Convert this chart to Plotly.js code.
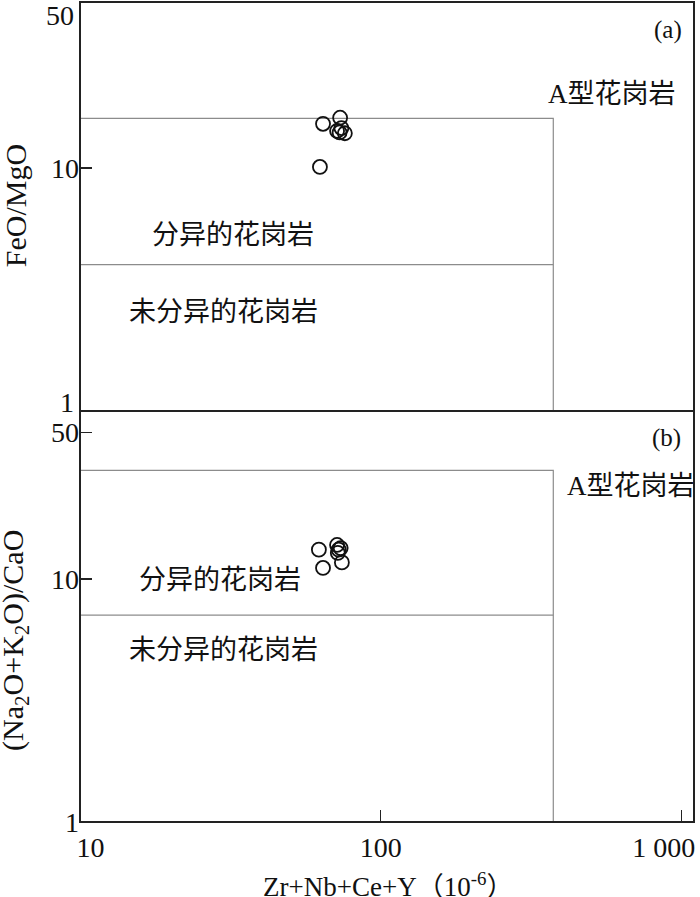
<!DOCTYPE html>
<html>
<head>
<meta charset="utf-8">
<script src="https://cdn.plot.ly/plotly-3.0.1.min.js"></script>
<style>
  body { margin: 0; background: #fff; }
  #chart { width: 700px; height: 897px; }
</style>
</head>
<body>
<div id="chart"></div>
<script>
// Zr+Nb+Ce+Y (10^-6) vs FeO/MgO  -- panel (a)
var sumA = [64.3, 73.3, 71.6, 74.0, 76.0, 73.0, 62.8];
var feoMgo = [15.2, 16.1, 14.2, 14.6, 13.9, 14.0, 10.1];
// Zr+Nb+Ce+Y vs (Na2O+K2O)/CaO -- panel (b)
var sumB = [62.3, 71.6, 72.5, 72.0, 74.3, 64.3, 73.6];
var alkCao = [13.2, 13.8, 13.2, 12.8, 11.7, 11.1, 13.4];

// field boundaries
var aTypeMin = 375;
var fgFeoMgo = 16, ogtFeoMgo = 4;
var fgAlkCao = 28, ogtAlkCao = 7.1;

var xTickVals = [10, 100, 1000];
var xTickText = ['\u00a0\u00a0\u00a010', '100', '1 000\u00a0\u00a0\u00a0\u00a0\u00a0'];

var serif = 'Liberation Serif, "Noto Sans CJK SC", serif';
var boxGray = '#8c8c8c';
var tickFont = {family: serif, size: 28, color: '#111'};

function boundary(x, y, yaxis) {
  return {x: x, y: y, xaxis: 'x', yaxis: yaxis, mode: 'lines', type: 'scatter',
    line: {color: boxGray, width: 1.2}, hoverinfo: 'skip', showlegend: false};
}
function samples(x, y, yaxis) {
  return {x: x, y: y, xaxis: 'x', yaxis: yaxis, mode: 'markers', type: 'scatter',
    marker: {symbol: 'circle-open', size: 14, color: '#111', line: {width: 1.8}},
    showlegend: false};
}

var traces = [
  boundary([10, aTypeMin, aTypeMin], [fgFeoMgo, fgFeoMgo, 1], 'y'),
  boundary([10, aTypeMin], [ogtFeoMgo, ogtFeoMgo], 'y'),
  boundary([10, aTypeMin, aTypeMin], [fgAlkCao, fgAlkCao, 1], 'y2'),
  boundary([10, aTypeMin], [ogtAlkCao, ogtAlkCao], 'y2'),
  samples(sumA, feoMgo, 'y'),
  samples(sumB, alkCao, 'y2')
];

var split = 0.5012;

function label(text, x, y, size, extra) {
  var a = {text: text, xref: 'paper', yref: 'paper', x: x, y: y, showarrow: false,
    font: {family: serif, size: size, color: '#111'}, xanchor: 'center', yanchor: 'middle'};
  return Object.assign(a, extra || {});
}

var layout = {
  width: 700, height: 897,
  margin: {l: 80, r: 6, t: 2, b: 75},
  paper_bgcolor: '#fff', plot_bgcolor: '#fff',
  font: {family: serif, size: 24, color: '#111'},
  xaxis: {
    type: 'log', range: [1, 3.042], anchor: 'y2',
    tickvals: xTickVals, ticktext: xTickText, ticklabeloverflow: 'allow',
    ticks: 'inside', ticklen: 12, tickwidth: 1.5, tickcolor: '#222',
    ticklabelstandoff: 6,
    showgrid: false, zeroline: false, showline: false,
    tickfont: tickFont
  },
  yaxis: {
    type: 'log', range: [0, 1.683], domain: [split, 1], anchor: 'x',
    tickvals: [1, 10], ticktext: ['', '10'],
    ticks: 'inside', ticklen: 12, tickwidth: 1.5, tickcolor: '#222',
    showgrid: false, zeroline: false, showline: false,
    tickfont: tickFont
  },
  yaxis2: {
    type: 'log', range: [0, 1.691], domain: [0, split], anchor: 'x',
    tickvals: [1, 10, 40], ticktext: ['1', '10', '50'],
    ticks: 'inside', ticklen: 12, tickwidth: 1.5, tickcolor: '#222',
    showgrid: false, zeroline: false, showline: false,
    tickfont: tickFont
  },
  shapes: [
    {type: 'rect', xref: 'paper', yref: 'paper', x0: 0, x1: 1, y0: split, y1: 1,
      line: {color: '#222', width: 2}},
    {type: 'rect', xref: 'paper', yref: 'paper', x0: 0, x1: 1, y0: 0, y1: split,
      line: {color: '#222', width: 2}}
  ],
  annotations: [
    label('50', -0.007, 0.984, 28, {xanchor: 'right'}),
    label('1', -0.007, 0.511, 28, {xanchor: 'right'}),
    label('(a)', 0.958, 0.966, 25),
    label('A型花岗岩', 0.866, 0.888, 27),
    label('分异的花岗岩', 0.249, 0.716, 27),
    label('未分异的花岗岩', 0.233, 0.622, 27),
    label('(b)', 0.956, 0.468, 25),
    label('A型花岗岩', 0.897, 0.41, 27),
    label('分异的花岗岩', 0.228, 0.295, 27),
    label('未分异的花岗岩', 0.233, 0.21, 27),
    label('FeO/MgO', -0.106, 0.752, 30, {textangle: -90}),
    label('(Na<sub>2</sub>O+K<sub>2</sub>O)/CaO', -0.106, 0.222, 30, {textangle: -90}),
    label('Zr+Nb+Ce+Y（10<sup>-6</sup>）', 0.502, -0.077, 27)
  ]
};

Plotly.newPlot('chart', traces, layout, {displayModeBar: false, staticPlot: true});
</script>
</body>
</html>
